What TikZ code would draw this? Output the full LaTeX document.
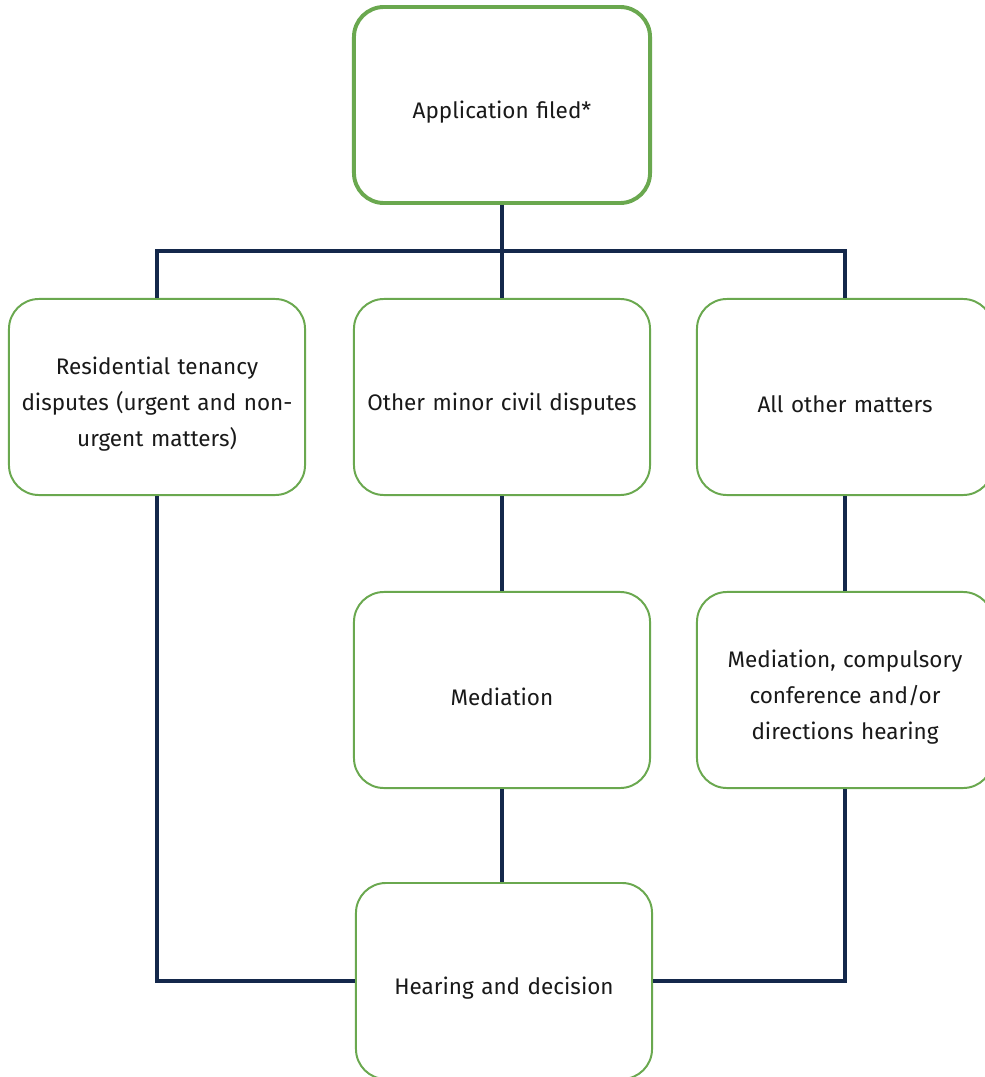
\documentclass[tikz,border=0pt]{standalone}
\usepackage{fontspec}
\setmainfont{Fira Sans}
\usetikzlibrary{positioning}

\definecolor{boxgreen}{HTML}{6AA84F}
\definecolor{linenavy}{HTML}{14284B}

\begin{document}
\begin{tikzpicture}[
    x=0.025cm, y=-0.025cm,
    stage/.style={
        draw=boxgreen,
        line width=1.4pt,
        fill=white,
        rounded corners=0.75cm,
        minimum width=7.4cm,
        minimum height=4.9cm,
        text width=6.8cm,
        align=center,
        inner sep=0pt,
        text=black!90,
        font=\fontsize{16}{25.6}\selectfont,
        execute at begin node={\rule{0pt}{22pt}}
    },
    link/.style={draw=linenavy, line width=2.8pt}
]
\useasboundingbox (0,0) rectangle (985,1077);
\clip (0,0) rectangle (985,1077);
% Boxes
\node[stage, line width=2.8pt] (filed) at (502,105) {Application filed*};
\node[stage] (tenancy) at (157,397) {Residential tenancy\\disputes (urgent and non-\\urgent matters)};
\node[stage] (minor) at (502,397) {Other minor civil disputes};
\node[stage] (other) at (845,397) {All other matters};
\node[stage] (mediation) at (502,690) {Mediation};
\node[stage] (conference) at (845,690) {Mediation, compulsory\\conference and/or\\directions hearing};
\node[stage] (hearing) at (504,981) {Hearing and decision};
% Connectors
\coordinate (split) at (502,251);
\draw[link] (filed.south) -- (split);
\draw[link] (tenancy.north) -- (tenancy.north |- split) -- (other.north |- split) -- (other.north);
\draw[link] (split) -- (minor.north);
\draw[link] (minor.south) -- (mediation.north);
\draw[link] (other.south) -- (conference.north);
\draw[link] (mediation.south) -- (mediation.south |- hearing.north);
\draw[link] (tenancy.south) |- (hearing.west);
\draw[link] (conference.south) |- (hearing.east);
\end{tikzpicture}
\end{document}
